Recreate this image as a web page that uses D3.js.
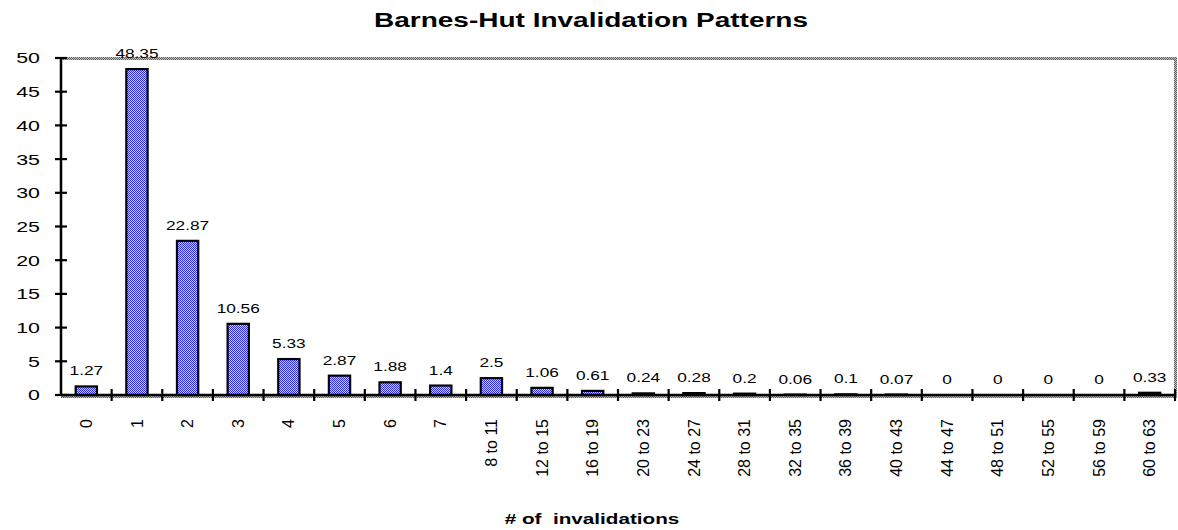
<!DOCTYPE html>
<html>
<head>
<meta charset="utf-8">
<script src="https://cdn.jsdelivr.net/npm/d3@7"></script>
<style>
  html, body { margin: 0; padding: 0; background: #fff; }
  svg { display: block; font-family: Arial, "Liberation Sans", sans-serif; }
</style>
</head>
<body>
<svg id="chart" width="1178" height="530"></svg>
<script>
const categories = ["0","1","2","3","4","5","6","7","8 to 11","12 to 15","16 to 19","20 to 23","24 to 27","28 to 31","32 to 35","36 to 39","40 to 43","44 to 47","48 to 51","52 to 55","56 to 59","60 to 63"];
const values = [1.27, 48.35, 22.87, 10.56, 5.33, 2.87, 1.88, 1.4, 2.5, 1.06, 0.61, 0.24, 0.28, 0.2, 0.06, 0.1, 0.07, 0, 0, 0, 0, 0.33];
const yTicks = [0, 5, 10, 15, 20, 25, 30, 35, 40, 45, 50];
const chartTitle = "Barnes-Hut Invalidation Patterns";
const xTitle = "# of  invalidations";

(function () {
const svg = d3.select("#chart");
const pLeft = 61, pRight = 1175, pTop = 58, pBottom = 395;
const SX = 1.38; // horizontal stretch of the reference's text

const defs = svg.append("defs");
const pat = defs.append("pattern").attr("id", "blueChecker")
  .attr("patternUnits", "userSpaceOnUse").attr("width", 2).attr("height", 2);
pat.append("rect").attr("width", 2).attr("height", 2).attr("fill", "#d0d0ff");
pat.append("rect").attr("width", 1).attr("height", 1).attr("fill", "#2c2cff");
pat.append("rect").attr("x", 1).attr("y", 1).attr("width", 1).attr("height", 1).attr("fill", "#2c2cff");

const gpat = defs.append("pattern").attr("id", "grayChecker")
  .attr("patternUnits", "userSpaceOnUse").attr("width", 2).attr("height", 2);
gpat.append("rect").attr("width", 2).attr("height", 2).attr("fill", "#c0c0c0");
gpat.append("rect").attr("width", 1).attr("height", 1).attr("fill", "#606060");
gpat.append("rect").attr("x", 1).attr("y", 1).attr("width", 1).attr("height", 1).attr("fill", "#606060");

const x = d3.scaleBand().domain(categories).range([pLeft, pRight])
  .paddingInner(0.58).paddingOuter(0.29);
const y = d3.scaleLinear().domain([0, 50]).range([pBottom, pTop]);

// Plot border (gray dotted) top, right, bottom
svg.append("rect").attr("x", pLeft).attr("y", pTop - 1).attr("width", pRight - pLeft + 2).attr("height", 3).attr("fill", "url(#grayChecker)");
svg.append("rect").attr("x", pRight - 1).attr("y", pTop - 1).attr("width", 3).attr("height", pBottom - pTop + 4).attr("fill", "url(#grayChecker)");
svg.append("rect").attr("x", pLeft).attr("y", pBottom + 1).attr("width", pRight - pLeft + 2).attr("height", 2).attr("fill", "url(#grayChecker)");

// Bars
svg.append("g").selectAll("rect").data(values).join("rect")
  .attr("x", (d, i) => x(categories[i]))
  .attr("y", d => y(d))
  .attr("width", x.bandwidth())
  .attr("height", d => pBottom - y(d))
  .attr("fill", "url(#blueChecker)")
  .attr("stroke", "#000")
  .attr("stroke-width", 2.2);

// Data labels
svg.append("g").selectAll("text").data(values).join("text")
  .attr("transform", (d, i) => `translate(${x(categories[i]) + x.bandwidth() / 2},${y(d) - 11}) scale(${SX},1)`)
  .attr("text-anchor", "middle")
  .attr("font-size", 12.5)
  .attr("fill", "#000")
  .text(d => d);

// Y axis
const yAxis = d3.axisLeft(y).tickValues(yTicks).tickSize(0).tickPadding(0);
const yg = svg.append("g").attr("transform", `translate(${pLeft},0)`).call(yAxis);
yg.select(".domain").remove();
yg.selectAll("text")
  .attr("font-size", 15.5)
  .attr("font-family", "Arial, 'Liberation Sans', sans-serif")
  .attr("fill", "#000")
  .attr("x", 0)
  .attr("transform", `translate(-21,0) scale(${SX},1)`);
svg.append("g").selectAll("line").data(yTicks).join("line")
  .attr("x1", pLeft - 6).attr("x2", pLeft + 6)
  .attr("y1", d => y(d)).attr("y2", d => y(d))
  .attr("stroke", "#000").attr("stroke-width", 2.2);
svg.append("line").attr("x1", pLeft).attr("x2", pLeft).attr("y1", pTop - 1).attr("y2", pBottom + 1)
  .attr("stroke", "#000").attr("stroke-width", 2.5);

// X axis
const xAxis = d3.axisBottom(x).tickSize(0).tickPadding(0);
const xg = svg.append("g").attr("transform", `translate(0,${pBottom})`).call(xAxis);
xg.select(".domain").remove();
xg.selectAll("text")
  .attr("font-size", 16)
  .attr("font-family", "Arial, 'Liberation Sans', sans-serif")
  .attr("fill", "#000")
  .attr("text-anchor", "end")
  .attr("transform", "rotate(-90)")
  .attr("x", -24)
  .attr("y", 0)
  .attr("dy", "0.35em");
svg.append("line").attr("x1", pLeft).attr("x2", pRight).attr("y1", pBottom).attr("y2", pBottom)
  .attr("stroke", "#000").attr("stroke-width", 2.5);
const step = x.step();
svg.append("g").selectAll("line").data(d3.range(1, categories.length + 1)).join("line")
  .attr("x1", i => pLeft + i * step).attr("x2", i => pLeft + i * step)
  .attr("y1", pBottom - 6).attr("y2", pBottom + 6)
  .attr("stroke", "#000").attr("stroke-width", 2.2);

// Titles
svg.append("text").attr("transform", `translate(591,27) scale(1.4,1)`).attr("text-anchor", "middle")
  .attr("font-size", 20).attr("font-weight", "bold").text(chartTitle);
svg.append("text").attr("transform", `translate(592,524) scale(${SX},1)`).attr("text-anchor", "middle")
  .attr("font-size", 15).attr("font-weight", "bold")
  .style("white-space", "pre").text(xTitle);
})();
</script>
</body>
</html>
